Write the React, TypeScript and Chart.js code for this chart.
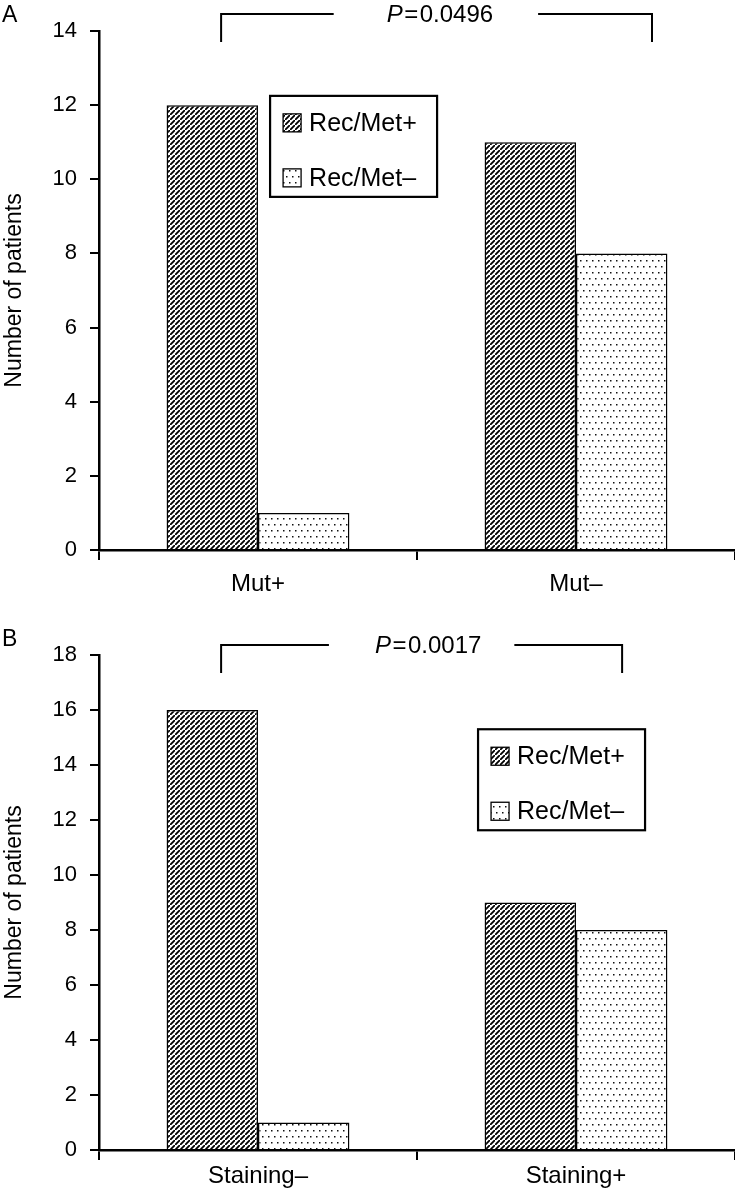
import { useEffect, useRef } from 'react';
import { Chart, registerables } from 'chart.js';

Chart.register(...registerables);

const FONT = '"Liberation Sans", Arial, Helvetica, sans-serif';

const SERIES_LABELS = ['Rec/Met+', 'Rec/Met–'];
const Y_TITLE = 'Number of patients';

const CATEGORIES_A = ['Mut+', 'Mut–'];
const REC_POS_A = [12, 11];
const REC_NEG_A = [1, 8];
const Y_MAX_A = 14;
const Y_STEP_A = 2;
const P_VALUE_A = '0.0496';

const CATEGORIES_B = ['Staining–', 'Staining+'];
const REC_POS_B = [16, 9];
const REC_NEG_B = [1, 8];
const Y_MAX_B = 18;
const Y_STEP_B = 2;
const P_VALUE_B = '0.0017';

function makeHatch(): CanvasPattern | string {
  const s = 5;
  const c = document.createElement('canvas');
  c.width = s;
  c.height = s;
  const g = c.getContext('2d');
  if (!g) return '#444';
  g.fillStyle = '#fff';
  g.fillRect(0, 0, s, s);
  g.strokeStyle = '#000';
  g.lineWidth = 1.8;
  g.beginPath();
  g.moveTo(-1, s + 1);
  g.lineTo(s + 1, -1);
  g.moveTo(-s - 1, 1);
  g.lineTo(1, -s - 1);
  g.moveTo(s - 1, 2 * s + 1);
  g.lineTo(2 * s + 1, s - 1);
  g.stroke();
  return g.createPattern(c, 'repeat') || '#444';
}

function makeDots(): CanvasPattern | string {
  const w = 6;
  const h = 12;
  const c = document.createElement('canvas');
  c.width = w;
  c.height = h;
  const g = c.getContext('2d');
  if (!g) return '#eee';
  g.fillStyle = '#fff';
  g.fillRect(0, 0, w, h);
  g.fillStyle = '#111';
  g.fillRect(1, 2, 1.5, 1.5);
  g.fillRect(4, 8, 1.5, 1.5);
  return g.createPattern(c, 'repeat') || '#eee';
}

type PanelProps = {
  height: number;
  letter: string;
  letterY: number;
  categories: string[];
  recPos: number[];
  recNeg: number[];
  yMax: number;
  yStep: number;
  pValue: string;
  padTop: number;
  xAxisHeight: number;
  xLabelPad: number;
  bracket: {
    left: number;
    right: number;
    top: number;
    bottom: number;
    textCenter: number;
    gapL: number;
    gapR: number;
  };
  legendPos: { fx: number; vy: number };
};

const annotPlugin = {
  id: 'annot',
  afterDraw(chart: any, _args: any, opts: any) {
    const { ctx, chartArea } = chart;
    const x = chart.scales.x;
    const y = chart.scales.y;
    ctx.save();
    ctx.fillStyle = '#000';
    ctx.strokeStyle = '#000';

    // panel letter
    ctx.font = `23px ${FONT}`;
    ctx.textAlign = 'left';
    ctx.textBaseline = 'top';
    ctx.fillText(opts.letter, 2, opts.letterY);

    // bracket with p-value
    const b = opts.bracket;
    const xl = x.getPixelForValue(b.left);
    const xr = x.getPixelForValue(b.right);
    const yt = y.getPixelForValue(b.top);
    const yb = y.getPixelForValue(b.bottom);
    const xc = x.getPixelForValue(b.textCenter);
    const fs = 24;
    ctx.font = `italic ${fs}px ${FONT}`;
    const wP = ctx.measureText('P').width;
    ctx.font = `${fs}px ${FONT}`;
    const wEq = ctx.measureText('=').width;
    const wNum = ctx.measureText(opts.pValue).width;
    const gap = 1.5;
    const total = wP + gap + wEq + gap + wNum;
    const tx = xc - total / 2;
    ctx.textBaseline = 'middle';
    ctx.font = `italic ${fs}px ${FONT}`;
    ctx.fillText('P', tx, yt + 1);
    ctx.font = `${fs}px ${FONT}`;
    ctx.fillText('=', tx + wP + gap, yt + 1);
    ctx.fillText(opts.pValue, tx + wP + gap + wEq + gap, yt + 1);
    ctx.lineWidth = 2;
    ctx.lineCap = 'butt';
    ctx.beginPath();
    ctx.moveTo(xl, yb);
    ctx.lineTo(xl, yt);
    ctx.lineTo(tx - b.gapL, yt);
    ctx.moveTo(tx + total + b.gapR, yt);
    ctx.lineTo(xr, yt);
    ctx.lineTo(xr, yb);
    ctx.stroke();

    // legend box
    const lp = opts.legendPos;
    const bx = chartArea.left + lp.fx * (chartArea.right - chartArea.left);
    const by = y.getPixelForValue(lp.vy);
    const bw = 167;
    const bh = 101;
    ctx.fillStyle = '#fff';
    ctx.fillRect(bx, by, bw, bh);
    ctx.lineWidth = 2.2;
    ctx.strokeRect(bx, by, bw, bh);
    const ds = chart.data.datasets;
    const rows = [27, 82];
    ds.forEach((d: any, i: number) => {
      const cy = by + rows[i];
      ctx.fillStyle = d.backgroundColor;
      ctx.fillRect(bx + 13, cy - 9, 18, 18);
      ctx.lineWidth = 1.3;
      ctx.strokeStyle = '#000';
      ctx.strokeRect(bx + 13, cy - 9, 18, 18);
      ctx.fillStyle = '#000';
      ctx.font = `25px ${FONT}`;
      ctx.textAlign = 'left';
      ctx.textBaseline = 'middle';
      ctx.fillText(d.label, bx + 39, cy + 1);
    });
    ctx.restore();
  },
};

function Panel(p: PanelProps) {
  const ref = useRef<HTMLCanvasElement | null>(null);
  useEffect(() => {
    if (!ref.current) return;
    const hatch = makeHatch();
    const dots = makeDots();
    const chart = new Chart(ref.current, {
      type: 'bar',
      data: {
        labels: p.categories,
        datasets: [
          {
            label: SERIES_LABELS[0],
            data: p.recPos,
            backgroundColor: hatch as any,
            borderColor: '#000',
            borderWidth: 1.5,
            categoryPercentage: 0.575,
            barPercentage: 1.0,
          },
          {
            label: SERIES_LABELS[1],
            data: p.recNeg,
            backgroundColor: dots as any,
            borderColor: '#000',
            borderWidth: 1.5,
            categoryPercentage: 0.575,
            barPercentage: 1.0,
          },
        ],
      },
      options: {
        animation: false,
        responsive: true,
        maintainAspectRatio: false,
        layout: { padding: { top: p.padTop, left: 0, right: 0, bottom: 0 } },
        plugins: {
          legend: { display: false },
          tooltip: { enabled: false },
          annot: {
            letter: p.letter,
            letterY: p.letterY,
            pValue: p.pValue,
            bracket: p.bracket,
            legendPos: p.legendPos,
          },
        } as any,
        scales: {
          x: {
            type: 'category',
            offset: true,
            grid: {
              display: true,
              offset: true,
              drawOnChartArea: false,
              drawTicks: true,
              tickLength: 10,
              color: '#000',
              lineWidth: 2,
            },
            border: { display: true, color: '#000', width: 2.5 },
            ticks: {
              color: '#000',
              font: { family: FONT, size: 24 },
              padding: p.xLabelPad,
              maxRotation: 0,
            },
            afterFit: (s: any) => {
              s.height = p.xAxisHeight;
            },
          } as any,
          y: {
            min: 0,
            max: p.yMax,
            grid: {
              display: true,
              drawOnChartArea: false,
              drawTicks: true,
              tickLength: 9,
              color: '#000',
              lineWidth: 2,
            },
            border: { display: true, color: '#000', width: 2.5 },
            ticks: {
              stepSize: p.yStep,
              color: '#000',
              font: { family: FONT, size: 22 },
              padding: 13,
            },
            title: {
              display: true,
              text: Y_TITLE,
              color: '#000',
              font: { family: FONT, size: 23 },
              padding: { top: 1, bottom: 0 },
            },
            afterFit: (s: any) => {
              s.width = 99;
            },
          } as any,
        },
      },
      plugins: [annotPlugin as any],
    });
    return () => chart.destroy();
  }, []);
  return (
    <div style={{ position: 'relative', width: 735, height: p.height }}>
      <canvas ref={ref} />
    </div>
  );
}

export default function App() {
  return (
    <div style={{ position: 'absolute', left: 0, top: 0, width: 735, background: '#fff' }}>
      <Panel
        height={600}
        letter="A"
        letterY={4}
        categories={CATEGORIES_A}
        recPos={REC_POS_A}
        recNeg={REC_NEG_A}
        yMax={Y_MAX_A}
        yStep={Y_STEP_A}
        pValue={P_VALUE_A}
        padTop={31}
        xAxisHeight={50}
        xLabelPad={10}
        bracket={{ left: -0.116, right: 1.239, top: 14.46, bottom: 13.7, textCenter: 0.572, gapL: 53, gapR: 45 }}
        legendPos={{ fx: 0.269, vy: 12.25 }}
      />
      <Panel
        height={590}
        letter="B"
        letterY={28}
        categories={CATEGORIES_B}
        recPos={REC_POS_B}
        recNeg={REC_NEG_B}
        yMax={Y_MAX_B}
        yStep={Y_STEP_B}
        pValue={P_VALUE_B}
        padTop={55}
        xAxisHeight={40}
        xLabelPad={2}
        bracket={{ left: -0.116, right: 1.145, top: 18.36, bottom: 17.35, textCenter: 0.535, gapL: 46, gapR: 33 }}
        legendPos={{ fx: 0.596, vy: 15.3 }}
      />
    </div>
  );
}
